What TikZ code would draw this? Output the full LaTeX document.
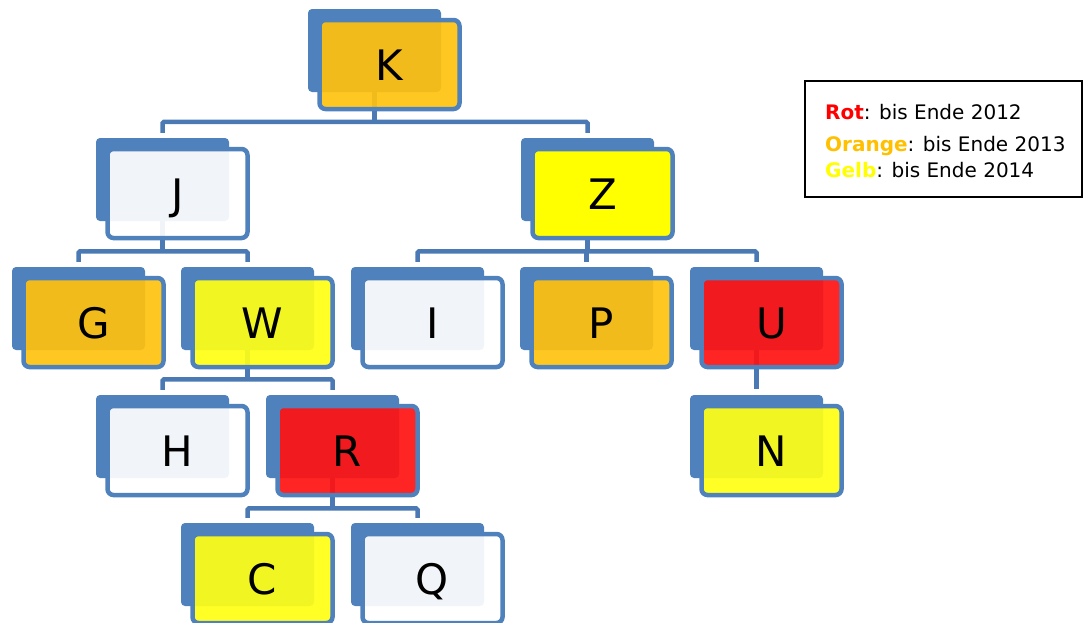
\documentclass[tikz,border=0pt]{standalone}
\usepackage{fontspec}
\setmainfont{DejaVu Sans}
\usetikzlibrary{calc}
\pgfdeclarelayer{bg}\pgfsetlayers{bg,main}
\definecolor{boxblue}{HTML}{4F81BD}
\definecolor{linkblue}{HTML}{4A79B4}
\definecolor{fOrange}{HTML}{FFC20E}
\definecolor{fYellow}{HTML}{FFFF14}
\definecolor{fRed}{HTML}{FF1212}
\definecolor{lRed}{HTML}{FF0000}
\definecolor{lOrange}{HTML}{FFC000}
\definecolor{lYellow}{HTML}{FFFF00}
\tikzset{
  backbox/.style={rectangle, rounded corners=4pt, fill=boxblue, minimum width=133pt, minimum height=83pt, inner sep=0pt},
  frontbox/.style={rectangle, rounded corners=6pt, draw=boxblue, line width=4.5pt, minimum width=140pt, minimum height=89pt, inner sep=0pt, fill opacity=0.92, text opacity=1, font=\fontsize{42}{50}\selectfont, text height=31pt, text depth=0pt},
  lightf/.style={fill=white},
  orangef/.style={fill=fOrange},
  yellowf/.style={fill=fYellow},
  redf/.style={fill=fRed},
  solidyellow/.style={fill=lYellow, fill opacity=1},
  conn/.style={draw=linkblue, line width=4.5pt, rounded corners=1.5pt},
  legendbox/.style={rectangle, draw=black, line width=2pt, fill=white, minimum width=277pt, minimum height=116pt, inner sep=0pt},
  legendtext/.style={anchor=base west, inner sep=0pt, font=\fontsize{20}{24}\selectfont}
}
\newcommand{\orgnode}[5]{%
  \node[backbox] (#1b) at (#2+66.5, #3+41.5) {};
  \node[frontbox, #4] (#1) at (#2+81.5, #3+55.5) {#5};}
\begin{document}
\begin{tikzpicture}[x=1pt, y=-1pt]
\useasboundingbox (0,0) rectangle (1084,622);
\orgnode{K}{308}{9}{orangef}{K}
\orgnode{J}{96}{138}{lightf}{J}
\orgnode{Z}{521}{138}{solidyellow}{Z}
\orgnode{G}{12}{267}{orangef}{G}
\orgnode{W}{181}{267}{yellowf}{W}
\orgnode{I}{351}{267}{lightf}{I}
\orgnode{P}{520}{267}{orangef}{P}
\orgnode{U}{690}{267}{redf}{U}
\orgnode{H}{96}{395}{lightf}{H}
\orgnode{R}{266}{395}{redf}{R}
\orgnode{N}{690}{395}{yellowf}{N}
\orgnode{C}{181}{523}{yellowf}{C}
\orgnode{Q}{351}{523}{lightf}{Q}

\begin{pgfonlayer}{bg}
  % K -> J, Z
  \coordinate (kbar) at ($(Jb.north)+(0,-16)$);
  \draw[conn] (Kb.center) -- (Kb.center |- kbar);
  \draw[conn] ($(Jb.north)+(0,-5)$) -- (Jb.north |- kbar) -- (Zb.north |- kbar) -- ($(Zb.north)+(0,-5)$);
  % J -> G, W
  \coordinate (jbar) at ($(Gb.north)+(0,-15.5)$);
  \draw[conn] (Jb.center) -- (Jb.center |- jbar);
  \draw[conn] ($(Gb.north)+(0,-5)$) -- (Gb.north |- jbar) -- (Wb.north |- jbar) -- ($(Wb.north)+(0,-5)$);
  % Z -> I, P, U
  \coordinate (zbar) at ($(Ib.north)+(0,-15.5)$);
  \draw[conn] (Zb.center) -- (Zb.center |- zbar);
  \draw[conn] ($(Ib.north)+(0,-5)$) -- (Ib.north |- zbar) -- (Ub.north |- zbar) -- ($(Ub.north)+(0,-5)$);
  \draw[conn] (Pb.north |- zbar) -- ($(Pb.north)+(0,-5)$);
  % W -> H, R
  \coordinate (wbar) at ($(Hb.north)+(0,-15.5)$);
  \draw[conn] (Wb.center) -- (Wb.center |- wbar);
  \draw[conn] ($(Hb.north)+(0,-5)$) -- (Hb.north |- wbar) -- (Rb.north |- wbar) -- ($(Rb.north)+(0,-5)$);
  % U -> N
  \draw[conn] (Ub.center) -- ($(Nb.north)+(0,-6)$);
  % R -> C, Q
  \coordinate (rbar) at ($(Cb.north)+(0,-14.5)$);
  \draw[conn] (Rb.center) -- (Rb.center |- rbar);
  \draw[conn] ($(Cb.north)+(0,-5)$) -- (Cb.north |- rbar) -- (Qb.north |- rbar) -- ($(Qb.north)+(0,-5)$);
\end{pgfonlayer}

% legend
\node[legendbox] (legend) at (943.5,139) {};
\node[legendtext] (l1) at (825,119) {\textcolor{lRed}{\textbf{Rot}}: bis Ende 2012};
\node[legendtext] (l2) at (825,151) {\textcolor{lOrange}{\textbf{Orange}}: bis Ende 2013};
\node[legendtext] (l3) at (825,177) {\textcolor{lYellow}{\textbf{Gelb}}: bis Ende 2014};
\end{tikzpicture}
\end{document}
